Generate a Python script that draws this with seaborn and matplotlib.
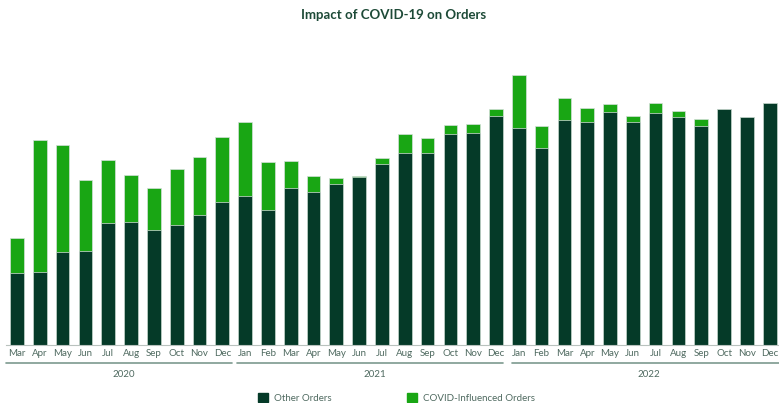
import seaborn as sns
import matplotlib.pyplot as plt
import pandas as pd

# -----------------------------------
# Data
# -----------------------------------
months = ["Mar", "Apr", "May", "Jun", "Jul", "Aug", "Sep", "Oct", "Nov", "Dec",
          "Jan", "Feb", "Mar", "Apr", "May", "Jun", "Jul", "Aug", "Sep", "Oct", "Nov", "Dec",
          "Jan", "Feb", "Mar", "Apr", "May", "Jun", "Jul", "Aug", "Sep", "Oct", "Nov", "Dec"]
years = ["2020"] * 10 + ["2021"] * 12 + ["2022"] * 12

other_orders = [72, 73, 93, 94, 122, 123, 115, 120, 130, 143,
                149, 135, 157, 153, 161, 168, 181, 192, 192, 211, 212, 229,
                217, 197, 225, 223, 233, 223, 232, 228, 219, 236, 228, 242]
covid_orders = [35, 132, 107, 71, 63, 47, 42, 56, 58, 65,
                74, 48, 27, 16, 6, 1, 6, 19, 15, 9, 9, 7,
                53, 22, 22, 14, 8, 6, 10, 6, 7, 0, 0, 0]

df = pd.DataFrame({
    "key": [f"{m} {y}" for m, y in zip(months, years)],
    "month": months,
    "year": years,
    "other": other_orders,
    "covid": covid_orders,
})
df["total"] = df["other"] + df["covid"]

DARK = "#053a28"
LIGHT = "#19a614"
TEXT = "#4f6a60"

sns.set_theme(style="white")
plt.rcParams["font.family"] = ["Lato", "DejaVu Sans"]

# -----------------------------------
# Figure
# -----------------------------------
fig = plt.figure(figsize=(7.79, 4.03), dpi=100)
ax = fig.add_axes([5.6 / 779, 58 / 403, 775.5 / 779, 280 / 403])

# stacked bars: total in light green, other orders drawn over it
sns.barplot(data=df, x="key", y="total", color=LIGHT, width=0.6,
            edgecolor="#d5e0da", linewidth=0.5, saturation=1, ax=ax)
sns.barplot(data=df, x="key", y="other", color=DARK, width=0.6,
            edgecolor="#d5e0da", linewidth=0.5, saturation=1, ax=ax)

ax.set_ylim(0, 280)
ax.set_xlim(-0.5, len(df) - 0.5)
ax.set_yticks([])
ax.set_xlabel("")
ax.set_ylabel("")
ax.set_xticks(range(len(df)))
ax.set_xticklabels(df["month"], fontsize=7, color=TEXT)
ax.tick_params(axis="x", length=0, pad=3)
for side in ["top", "right", "left"]:
    ax.spines[side].set_visible(False)
ax.spines["bottom"].set_color("#b9c2be")
ax.spines["bottom"].set_linewidth(0.8)

# -----------------------------------
# Year grouping lines and labels
# -----------------------------------
groups = [("2020", -0.48, 9.43), ("2021", 9.65, 21.3), ("2022", 21.7, 33.6)]
for label, x0, x1 in groups:
    ax.plot([x0, x1], [-18, -18], color="#7d9a8f", lw=1.2, clip_on=False)
    idx = df.index[df["year"] == label]
    ax.text((idx.min() + idx.max()) / 2 + 0.2, -29.5, label, ha="center", va="center",
            fontsize=7, color=TEXT)

# -----------------------------------
# Title and legend
# -----------------------------------
fig.text(0.505, 0.962, "Impact of COVID-19 on Orders", ha="center", va="center",
         fontsize=9.5, fontweight="bold", color="#1d4a37")

handles = [plt.Rectangle((0, 0), 1, 1, color=DARK),
           plt.Rectangle((0, 0), 1, 1, color=LIGHT)]
fig.legend(handles, ["Other Orders", "COVID-Influenced Orders"],
           loc="center", bbox_to_anchor=(0.509, 0.013), ncol=2, frameon=False,
           fontsize=7, labelcolor=TEXT, handlelength=1.0, handleheight=1.0,
           handletextpad=0.6, columnspacing=7.8)

plt.savefig("out.png", dpi=100)
